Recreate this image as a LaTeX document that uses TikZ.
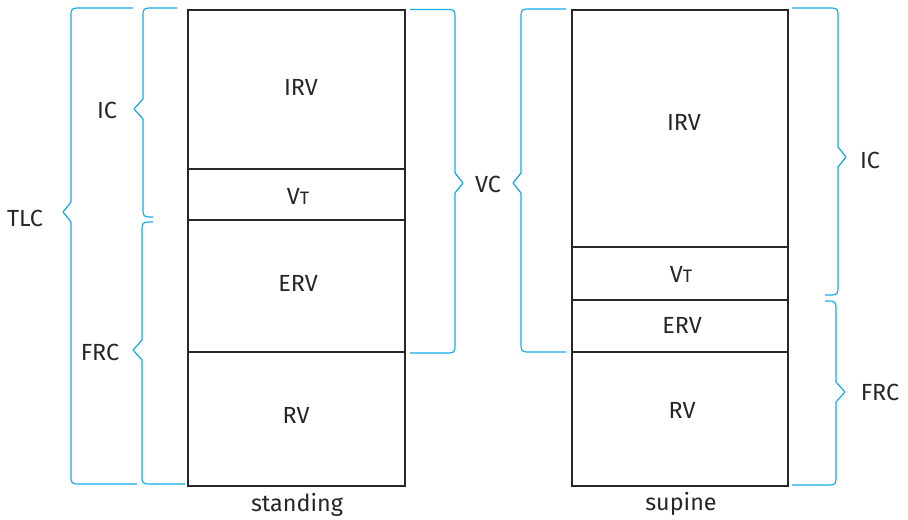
\documentclass[tikz,border=0pt]{standalone}
\usepackage{fontspec}
\setmainfont{Fira Sans}
\definecolor{brc}{RGB}{20,170,230}
\definecolor{boxc}{RGB}{40,40,40}
\newcommand\mybrace[8]{%
  % #1 xe top, #2 xv, #3 xc, #4 xt, #5 yt, #6 ym, #7 yb, #8 xe bottom
  \draw[br] (#1,#5) -- (#3,#5) .. controls (#2,#5) .. (#2,#5+10)
    -- (#2,#6-10) -- (#4,#6) -- (#2,#6+10) -- (#2,#7-10)
    .. controls (#2,#7) .. (#3,#7) -- (#8,#7);}
\begin{document}
\begin{tikzpicture}[x=0.75pt,y=-0.75pt,
  br/.style={draw=brc,line width=0.9pt,line join=round},
  cell/.style={draw=boxc,line width=1.1pt},
  lbl/.style={inner sep=0pt,font=\fontsize{17.5}{20}\selectfont,text=black!85}]
\useasboundingbox (0,0) rectangle (908,519);
% left column
\draw[cell] (188,10) rectangle (405,169);
\draw[cell] (188,169) rectangle (405,220);
\draw[cell] (188,220) rectangle (405,352);
\draw[cell] (188,352) rectangle (405,486);
\node[lbl] (lirv) at (301,87) {IRV};
\node[lbl] (lvt) at (298,196) {V{\fontsize{13.5}{16}\selectfont T}};
\node[lbl] (lerv) at (298,283) {ERV};
\node[lbl] (lrv) at (296,415) {RV};
\node[lbl] (lst) at (297,505) {standing};
% right column
\draw[cell] (572,10) rectangle (788,247);
\draw[cell] (572,247) rectangle (788,300);
\draw[cell] (572,300) rectangle (788,352);
\draw[cell] (572,352) rectangle (788,486);
\node[lbl] (rirv) at (684,122) {IRV};
\node[lbl] (rvt) at (681,274) {V{\fontsize{13.5}{16}\selectfont T}};
\node[lbl] (rerv) at (682,325) {ERV};
\node[lbl] (rrv) at (682,410) {RV};
\node[lbl] (rsu) at (681,504) {supine};
% braces
\mybrace{133}{71}{81}{63}{8}{212}{484}{137}
\mybrace{177}{143}{153}{134}{8}{109}{217}{153}
\mybrace{153}{142}{152}{133}{222}{350}{484}{185}
\mybrace{410}{455}{445}{463}{9.5}{183}{353}{410}
\mybrace{566}{521}{531}{513}{9}{183}{352}{566}
\mybrace{792}{838}{828}{846}{8}{157}{295}{825}
\mybrace{825}{836}{826}{845}{301}{392}{485}{792}
% brace labels
\node[lbl] (tlc) at (25,218) {TLC};
\node[lbl] (lic) at (107,110) {IC};
\node[lbl] (lfrc) at (100,352) {FRC};
\node[lbl] (vc) at (488,184) {VC};
\node[lbl] (ric) at (870,160) {IC};
\node[lbl] (rfrc) at (880,392) {FRC};
\end{tikzpicture}
\end{document}
